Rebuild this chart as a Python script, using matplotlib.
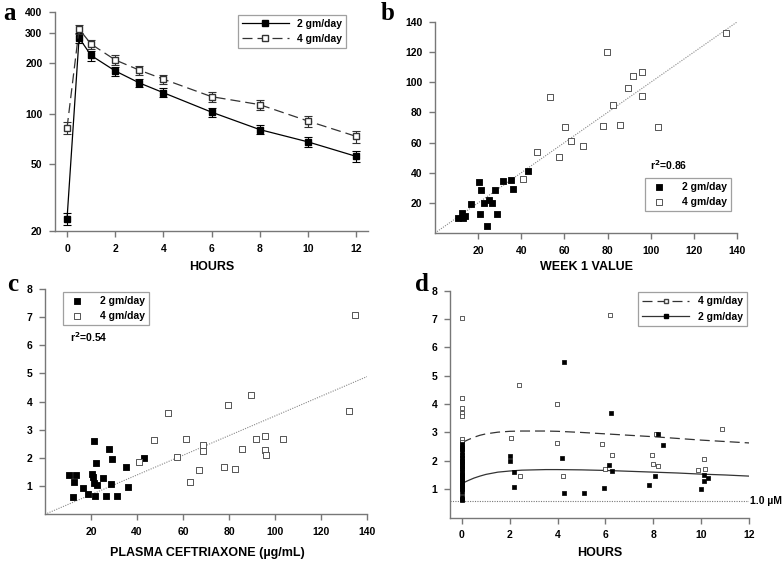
import matplotlib
matplotlib.use("Agg")
import matplotlib.pyplot as plt
from matplotlib.ticker import FixedLocator, FixedFormatter, NullLocator
from matplotlib.lines import Line2D

plt.rcParams['font.family'] = ['Liberation Sans', 'DejaVu Sans']
plt.rcParams['font.weight'] = 'bold'

# ---------------- Panel a data ----------------
a_hours = [0, 0.5, 1, 2, 3, 4, 6, 8, 10, 12]
a_2gm = [23.8, 281, 221, 179, 152, 133, 102, 80.4, 68, 55.8]
a_2gm_err = [2.0, 20, 15, 11, 9, 8, 6, 5, 5, 4]
a_4gm = [82.2, 317, 258, 208, 181, 160, 126, 113, 90.4, 73.3]
a_4gm_err = [7, 20, 15, 13, 11, 10, 9, 8, 7, 6]

# ---------------- Panel b data ----------------
b_2gm_x = [10.7, 12.4, 13.0, 13.9, 20.4, 21.5, 21.0, 16.8, 22.7, 25.2, 26.6, 24.0, 28.0, 28.7, 31.5, 35.4, 36.3, 43.3]
b_2gm_y = [9.7, 13.3, 9.7, 11.5, 33.9, 28.8, 12.8, 19.5, 20.2, 21.7, 20.2, 4.9, 28.8, 12.8, 34.6, 35.4, 29.2, 41.4]
b_4gm_x = [41.0, 47.4, 53.5, 57.6, 60.1, 63.0, 68.8, 79.9, 77.7, 82.7, 85.8, 89.5, 91.6, 95.8, 96.0, 103.4, 134.8]
b_4gm_y = [36.1, 54.0, 90.4, 50.3, 70.2, 61.1, 57.8, 120.1, 71.1, 84.8, 71.8, 95.9, 104.1, 106.8, 90.8, 70.2, 132.5]
b_fit_x = [0, 140]
b_fit_y = [0, 140]

# ---------------- Panel c data ----------------
c_2gm_x = [10.3, 13.5, 12.8, 12.2, 16.7, 18.7, 20.3, 21.0, 21.3, 21.7, 21.4, 22.0, 22.5, 25.1, 26.4, 28.0, 28.6, 29.1, 31.2, 35.2, 36.2, 43.2]
c_2gm_y = [1.40, 1.40, 1.16, 0.60, 0.92, 0.71, 1.42, 1.34, 1.12, 0.66, 2.59, 1.81, 1.04, 1.30, 0.66, 2.32, 1.08, 1.96, 0.64, 1.68, 0.97, 2.00]
c_4gm_x = [40.7, 47.2, 53.3, 57.5, 61.5, 62.9, 67.0, 68.6, 68.6, 77.7, 79.7, 82.8, 85.8, 89.7, 91.6, 95.8, 95.8, 95.9, 103.3, 132.3, 134.9]
c_4gm_y = [1.87, 2.64, 3.61, 2.04, 2.67, 1.16, 1.57, 2.47, 2.25, 1.67, 3.88, 1.61, 2.32, 4.25, 2.66, 2.78, 2.30, 2.09, 2.69, 3.68, 7.09]
c_fit_x = [0, 140]
c_fit_y = [0, 4.89]

# ---------------- Panel d data ----------------
d_4gm_t = [0, 0, 0, 0, 0, 0, 0, 0, 0, 0, 0,
           2.37, 2.05, 2.44, 3.99, 3.99, 4.22, 6.19, 5.87, 6.27, 5.99,
           8.13, 7.93, 8.0, 8.21, 9.87, 10.1, 10.16, 10.86]
d_4gm_y = [7.05, 4.22, 3.85, 3.68, 3.57, 2.78, 2.65, 2.45, 2.15, 2.05, 1.5,
           4.68, 2.79, 1.47, 4.02, 2.64, 1.47, 7.13, 2.59, 2.22, 1.70,
           2.95, 2.21, 1.88, 1.82, 1.66, 2.07, 1.71, 3.12]
d_2gm_t = [0] * 27 + [1.99, 1.99, 2.19, 2.19, 4.25, 4.2, 4.25, 5.11, 5.95, 6.16, 6.22, 6.29,
                      8.21, 8.4, 8.07, 7.83, 10.0, 10.12, 10.12, 10.27]
d_2gm_y = [0.6, 0.65, 0.72, 0.9, 1.0, 1.05, 1.1, 1.15, 1.2, 1.3, 1.35, 1.4, 1.45, 1.55,
           1.6, 1.7, 1.75, 1.8, 1.9, 1.95, 2.0, 2.1, 2.2, 2.3, 2.4, 2.5, 2.6,
           2.17, 1.98, 1.60, 1.06, 5.48, 2.09, 0.87, 0.85, 1.05, 1.86, 3.68, 1.63,
           2.93, 2.55, 1.46, 1.14, 1.00, 1.51, 1.28, 1.41]
d_curve_t = [0, 0.1, 0.25, 0.5, 0.75, 1, 1.5, 2, 2.5, 3, 3.5, 4, 5, 6, 7, 8, 9, 10, 11, 12]
d_4gm_curve = [2.63, 2.68, 2.74, 2.83, 2.90, 2.95, 3.01, 3.04, 3.05, 3.05, 3.05, 3.04, 3.00, 2.95, 2.90, 2.85, 2.79, 2.73, 2.68, 2.63]
d_2gm_curve = [1.19, 1.24, 1.30, 1.39, 1.46, 1.52, 1.60, 1.64, 1.67, 1.68, 1.69, 1.69, 1.68, 1.66, 1.63, 1.60, 1.57, 1.53, 1.50, 1.46]
d_mic = 0.565

W, H = 783, 561
fig = plt.figure(figsize=(W / 100, H / 100), dpi=100)


def add_ax(l, r, t, b):
    return fig.add_axes([l / W, 1 - b / H, (r - l) / W, (b - t) / H])


SPINE = '#777777'
TICKFS = 7.5
LABFS = 9


def style(ax):
    for s in ['top', 'right']:
        ax.spines[s].set_visible(False)
    for s in ['left', 'bottom']:
        ax.spines[s].set_color(SPINE)
        ax.spines[s].set_linewidth(1.0)
    ax.tick_params(direction='out', length=4, width=1, color=SPINE,
                   labelsize=TICKFS, pad=5)
    for lab in ax.get_xticklabels() + ax.get_yticklabels():
        lab.set_fontweight('bold')


def xlabel(text, xc, yc):
    fig.text(xc / W, 1 - yc / H, text, fontsize=LABFS, fontweight='bold',
             ha='center', va='center')


def legend(ax, x0, y0, x1, y1, **kw):
    leg = ax.legend(loc='center', bbox_to_anchor=(x0 / W, 1 - y1 / H, (x1 - x0) / W, (y1 - y0) / H),
                    bbox_transform=fig.transFigure, frameon=True, fancybox=False,
                    edgecolor='#888888', prop={'weight': 'bold', 'size': 7.5},
                    borderaxespad=0, **kw)
    leg.get_frame().set_linewidth(0.9)
    return leg


# ---------------- Panel a ----------------
ax = add_ax(55, 368, 12, 231.5)
ax.set_yscale('log')
ax.set_ylim(20, 400)
ax.set_xlim(-0.5, 12.5)
ax.errorbar(a_hours, a_2gm, yerr=a_2gm_err, color='black', lw=0.9, marker='s',
            ms=4, mfc='black', mec='black', capsize=3, elinewidth=0.8, capthick=0.8,
            label='2 gm/day', zorder=3)
ax.errorbar(a_hours, a_4gm, yerr=a_4gm_err, color='#333333', lw=0.9, ls=(0, (8, 4)),
            marker='s', ms=4, mfc='white', mec='#333333', capsize=3, elinewidth=0.8,
            capthick=0.8, label='4 gm/day', zorder=3)
ax.yaxis.set_major_locator(FixedLocator([20, 50, 100, 200, 300, 400]))
ax.yaxis.set_major_formatter(FixedFormatter(['20', '50', '100', '200', '300', '400']))
ax.yaxis.set_minor_locator(NullLocator())
ax.set_xticks([0, 2, 4, 6, 8, 10, 12])
style(ax)
xlabel('HOURS', 212, 267)
h, l = ax.get_legend_handles_labels()
h = [hh[0] for hh in h]
legend(ax, 242, 12, 342, 51, handles=h, labels=l, handlelength=4.5)
fig.text(3 / W, 1 - 20 / H, 'a', family=['Liberation Serif'], fontsize=18, fontweight='bold')

# ---------------- Panel b ----------------
ax = add_ax(435, 737, 22, 233)
ax.set_xlim(0, 140)
ax.set_ylim(0, 140)
ax.plot(b_fit_x, b_fit_y, color='#888888', lw=0.8, ls=(0, (1, 1.2)))
ax.scatter(b_2gm_x, b_2gm_y, marker='s', s=14, c='black', edgecolors='black', lw=0.6,
           label='2 gm/day', zorder=3)
ax.scatter(b_4gm_x, b_4gm_y, marker='s', s=14, c='white', edgecolors='#555555', lw=0.7,
           label='4 gm/day', zorder=3)
ax.set_xticks([20, 40, 60, 80, 100, 120, 140])
ax.set_yticks([20, 40, 60, 80, 100, 120, 140])
style(ax)
xlabel('WEEK 1 VALUE', 586, 267)
legend(ax, 649, 176, 727, 213, handletextpad=1.2)
fig.text(650 / W, 1 - 170 / H, 'r$^\\mathbf{2}$=0.86', fontsize=7.5, fontweight='bold')
fig.text(381 / W, 1 - 20 / H, 'b', family=['Liberation Serif'], fontsize=18, fontweight='bold')

# ---------------- Panel c ----------------
ax = add_ax(45, 367, 289, 514.3)
ax.set_xlim(0, 140)
ax.set_ylim(0, 8)
ax.plot(c_fit_x, c_fit_y, color='#888888', lw=0.8, ls=(0, (1, 1.2)))
ax.scatter(c_2gm_x, c_2gm_y, marker='s', s=15, c='black', edgecolors='black', lw=0.6,
           label='2 gm/day', zorder=3)
ax.scatter(c_4gm_x, c_4gm_y, marker='s', s=15, c='white', edgecolors='#555555', lw=0.7,
           label='4 gm/day', zorder=3)
ax.set_xticks([20, 40, 60, 80, 100, 120, 140])
ax.set_yticks([1, 2, 3, 4, 5, 6, 7, 8])
style(ax)
xlabel('PLASMA CEFTRIAXONE (µg/mL)', 207, 553)
legend(ax, 65, 288, 147, 329, handletextpad=1.2)
fig.text(70 / W, 1 - 342 / H, 'r$^\\mathbf{2}$=0.54', fontsize=7.5, fontweight='bold')
fig.text(7 / W, 1 - 291 / H, 'c', family=['Liberation Serif'], fontsize=18, fontweight='bold')

# ---------------- Panel d ----------------
ax = add_ax(450, 749, 290.7, 517.5)
ax.set_xlim(-0.5, 12)
ax.set_ylim(0, 8)
ax.axhline(d_mic, color='#777777', lw=0.8, ls=(0, (1, 1.2)))
ax.plot(d_curve_t, d_4gm_curve, color='#333333', lw=0.9, ls=(0, (8, 4)))
ax.plot(d_curve_t, d_2gm_curve, color='#333333', lw=0.9)
ax.scatter(d_4gm_t, d_4gm_y, marker='s', s=8, c='white', edgecolors='#444444', lw=0.6, zorder=3)
ax.scatter(d_2gm_t, d_2gm_y, marker='s', s=9, c='black', edgecolors='black', lw=0.5, zorder=3)
ax.set_xticks([0, 2, 4, 6, 8, 10, 12])
ax.set_yticks([1, 2, 3, 4, 5, 6, 7, 8])
style(ax)
xlabel('HOURS', 600, 553)
hd = [Line2D([], [], color='#333333', lw=0.9, ls=(0, (8, 4)), marker='s', ms=3, mfc='white', mec='#444444'),
      Line2D([], [], color='#333333', lw=0.9, marker='s', ms=3, mfc='black', mec='black')]
legend(ax, 645, 289, 740, 329, handles=hd, labels=['4 gm/day', '2 gm/day'], handlelength=4.5)
ax.text(1.005, d_mic, '1.0 µM', transform=ax.get_yaxis_transform(), fontsize=7.5,
        fontweight='bold', va='center', ha='left')
fig.text(415 / W, 1 - 291 / H, 'd', family=['Liberation Serif'], fontsize=18, fontweight='bold')

fig.savefig('out.png', dpi=100)
